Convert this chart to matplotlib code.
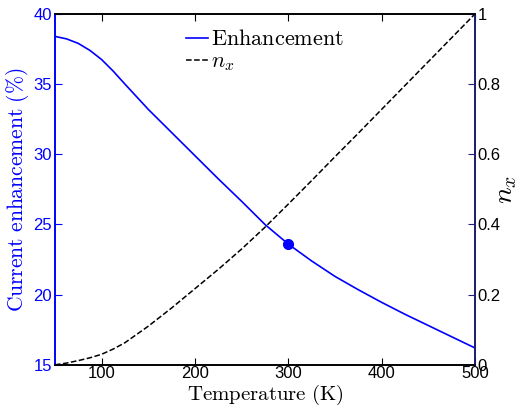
import matplotlib
matplotlib.use("Agg")
import matplotlib.pyplot as plt

plt.rcParams['mathtext.fontset'] = 'cm'
plt.rcParams['font.family'] = ['Liberation Sans', 'DejaVu Sans']

# temperature grid (K)
temperature = [50, 62.5, 75, 87.5, 100, 112.5, 125, 150, 175, 200, 225, 250, 275,
               300, 325, 350, 375, 400, 425, 450, 475, 500]
# current enhancement (%)
enhancement = [38.40, 38.22, 37.9, 37.4, 36.75, 35.92, 35.0, 33.2, 31.55, 29.9, 28.25, 26.65, 25.0,
               23.6, 22.4, 21.3, 20.35, 19.45, 18.6, 17.8, 17.0, 16.2]
# n_x
n_x = [0.0, 0.005, 0.012, 0.02, 0.030, 0.045, 0.063, 0.11, 0.162, 0.217, 0.272, 0.33, 0.392,
       0.458, 0.525, 0.593, 0.66, 0.728, 0.796, 0.864, 0.932, 1.0]
# highlighted point
mark_T = [300]
mark_E = [23.6]

blue = '#0000ff'

fig = plt.figure(figsize=(5.18, 4.09), dpi=100)
ax = fig.add_axes([0.106, 0.108, 0.811, 0.858])
ax2 = ax.twinx()

l1, = ax.plot(temperature, enhancement, color=blue, lw=1.2)
ax.plot(mark_T, mark_E, 'o', color=blue, ms=7)
l2, = ax2.plot(temperature, n_x, '--', color='k', lw=1.1)

ax.set_xlim(50, 500)
ax.set_ylim(15, 40)
ax2.set_ylim(0, 1)
ax.set_xticks([100, 200, 300, 400, 500])
ax.set_yticks([15, 20, 25, 30, 35, 40])
ax2.set_yticks([0, 0.2, 0.4, 0.6, 0.8, 1])
ax2.set_yticklabels(['0', '0.2', '0.4', '0.6', '0.8', '1'])

ax.tick_params(axis='x', direction='in', top=True, length=5, labelsize=12, pad=1)
ax.tick_params(axis='y', direction='in', length=5, colors=blue, labelsize=12, pad=2)
ax2.tick_params(axis='y', direction='in', length=5, color='#202080', labelcolor='k', labelsize=12, pad=2)

ax.spines['left'].set_color(blue)
ax2.spines['left'].set_color(blue)
ax2.spines['right'].set_color('#202080')
for a in (ax, ax2):
    for s in a.spines.values():
        s.set_linewidth(1.2)

ax.set_xlabel(r'$\mathrm{Temperature\ (K)}$', fontsize=15, labelpad=1)
ax.set_ylabel(r'$\mathrm{Current\ enhancement\ (\%)}$', fontsize=15.5, color=blue, labelpad=2)
ax2.set_ylabel(r'$n_x$', fontsize=20, labelpad=-6)

ax.legend([l1, l2], [r'$\mathrm{Enhancement}$', '$n_x$'], loc='upper center', frameon=False,
          fontsize=16, handlelength=1.0, handletextpad=0.1,
          labelspacing=0.05, borderaxespad=0.3)

fig.savefig('out.png', dpi=100)
